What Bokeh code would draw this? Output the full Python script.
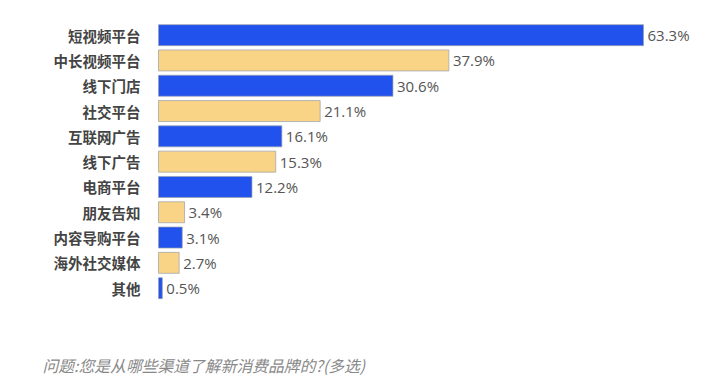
from bokeh.plotting import figure
from bokeh.models import ColumnDataSource, Range1d
from bokeh.core.properties import value
from bokeh.embed import file_html
from bokeh.resources import INLINE

categories = ["短视频平台", "中长视频平台", "线下门店", "社交平台", "互联网广告", "线下广告",
              "电商平台", "朋友告知", "内容导购平台", "海外社交媒体", "其他"]
values = [63.3, 37.9, 30.6, 21.1, 16.1, 15.3, 12.2, 3.4, 3.1, 2.7, 0.5]
labels = ["63.3%", "37.9%", "30.6%", "21.1%", "16.1%", "15.3%", "12.2%", "3.4%", "3.1%", "2.7%", "0.5%"]
footer = "问题:您是从哪些渠道了解新消费品牌的?(多选)"

BLUE = "#2152ee"
YELLOW = "#f9d386"
colors = [BLUE if i % 2 == 0 else YELLOW for i in range(len(categories))]
rows = list(range(len(categories)))  # row index, top to bottom

src = ColumnDataSource(dict(cat=categories, row=rows, val=values, lab=labels, col=colors))

W, H = 697, 384
BAR_LEFT_PX = 158          # where the value axis starts on the canvas
PX_PER_UNIT = 485 / 63.3   # horizontal scale
ROW_PX = 25.3              # row pitch
FIRST_ROW_PX = 34.65       # centre of first row from the top

p = figure(width=W, height=H, output_backend="svg", toolbar_location=None,
           x_range=Range1d(-BAR_LEFT_PX / PX_PER_UNIT, (W - BAR_LEFT_PX) / PX_PER_UNIT),
           y_range=Range1d((H - FIRST_ROW_PX) / ROW_PX, -FIRST_ROW_PX / ROW_PX),
           min_border=0)

p.hbar(y="row", right="val", left=0, height=0.83, source=src, fill_color="col",
       line_color="#9aa0aa", line_width=1, line_alpha=0.7)
p.text(x="val", y="row", text="lab", source=src, x_offset=4, text_baseline="middle",
       text_align="left", text_font=value("Open Sans"), text_font_size="15px",
       text_color="#555555")
p.text(x=0, y="row", text="cat", source=src, x_offset=-18, text_baseline="middle",
       text_align="right", text_font=value("Noto Sans CJK SC"), text_font_style="bold",
       text_font_size="14.5px", text_color="#444444")
p.text(x=[0], y=[rows[-1]], text=[footer], x_offset=-116, y_offset=77,
       text_baseline="middle", text_align="left", text_font=value("Noto Sans CJK SC"),
       text_font_style="italic", text_font_size="15.8px", text_color="#888888")

p.axis.visible = False
p.grid.visible = False
p.outline_line_color = None

open("out.html", "w").write(file_html(p, INLINE))
